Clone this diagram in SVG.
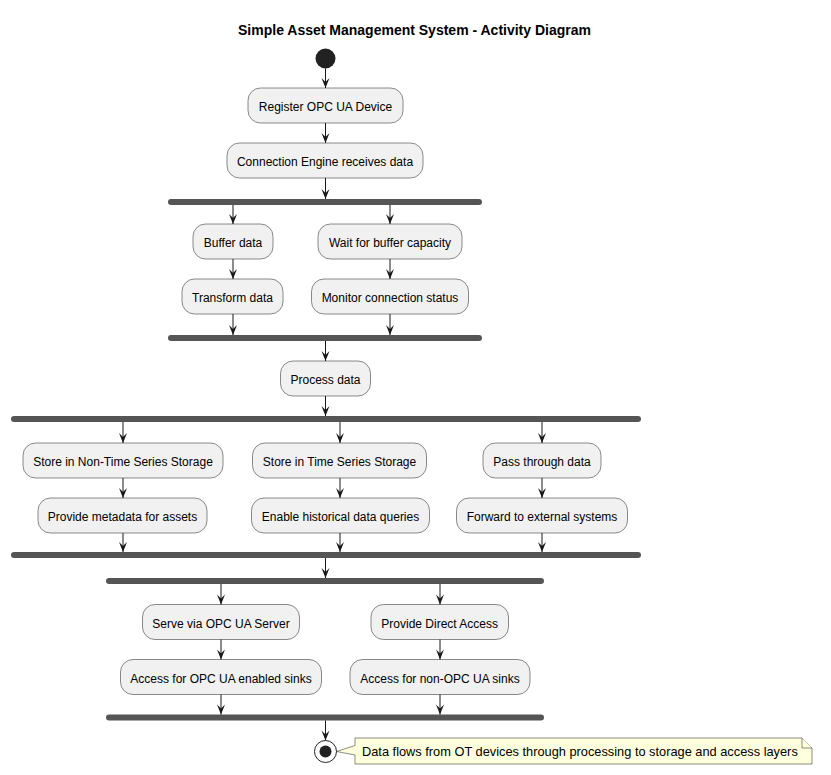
<svg xmlns="http://www.w3.org/2000/svg" width="831" height="775" viewBox="0 0 831 775">
<style>
text{font-family:"Liberation Sans",Arial,sans-serif;fill:#000}
.t{font-size:14px;font-weight:bold}
.a rect{fill:#F1F1F1;stroke:#181818;stroke-width:0.5}
.a text{font-size:12px;text-anchor:middle}
.bar{fill:#555555;stroke:#555555;stroke-width:0}
.c line{stroke:#181818;stroke-width:1;marker-end:url(#ah)}
.note path{fill:#FEFFDD;stroke:#181818;stroke-width:0.5}
.note text{font-size:12.8px}
</style>
<defs>
<marker id="ah" markerUnits="userSpaceOnUse" viewBox="-11 -5 12 10" refX="0" refY="0" markerWidth="12" markerHeight="10" orient="auto">
<path d="M0,0 L-10,-4 L-6,0 L-10,4 Z" fill="#181818"/>
</marker>
</defs>
<rect width="831" height="775" fill="#FFFFFF"/>
<text class="t" x="414.5" y="35" text-anchor="middle">Simple Asset Management System - Activity Diagram</text>

<g id="start"><circle cx="325.5" cy="58.5" r="10" fill="#222222"/></g>

<g id="n1" class="a"><rect x="248" y="88" width="155" height="35" rx="12.5"/><text x="325.5" y="111">Register OPC UA Device</text></g>
<g id="n2" class="a"><rect x="227" y="143" width="196" height="35" rx="12.5"/><text x="325" y="166">Connection Engine receives data</text></g>

<g id="fork1"><rect class="bar" x="168" y="199" width="314" height="6" rx="3"/></g>
<g id="n3" class="a"><rect x="193" y="224" width="80" height="35" rx="12.5"/><text x="233" y="247">Buffer data</text></g>
<g id="n4" class="a"><rect x="318" y="224" width="144" height="35" rx="12.5"/><text x="390" y="247">Wait for buffer capacity</text></g>
<g id="n5" class="a"><rect x="182" y="279" width="101" height="35" rx="12.5"/><text x="232.5" y="302">Transform data</text></g>
<g id="n6" class="a"><rect x="311.5" y="279" width="157" height="35" rx="12.5"/><text x="390" y="302">Monitor connection status</text></g>
<g id="join1"><rect class="bar" x="168" y="335" width="314" height="6" rx="3"/></g>

<g id="n7" class="a"><rect x="280.5" y="361" width="90" height="35" rx="12.5"/><text x="325.5" y="384">Process data</text></g>

<g id="fork2"><rect class="bar" x="11" y="416" width="630" height="6" rx="3"/></g>
<g id="n8" class="a"><rect x="23" y="443" width="200" height="35" rx="12.5"/><text x="123" y="466">Store in Non-Time Series Storage</text></g>
<g id="n9" class="a"><rect x="252.5" y="443" width="174" height="35" rx="12.5"/><text x="339.5" y="466">Store in Time Series Storage</text></g>
<g id="n10" class="a"><rect x="483" y="443" width="118" height="35" rx="12.5"/><text x="542" y="466">Pass through data</text></g>
<g id="n11" class="a"><rect x="38" y="498" width="169" height="35" rx="12.5"/><text x="122.5" y="521">Provide metadata for assets</text></g>
<g id="n12" class="a"><rect x="251.5" y="498" width="178" height="35" rx="12.5"/><text x="340.5" y="521">Enable historical data queries</text></g>
<g id="n13" class="a"><rect x="456.5" y="498" width="171" height="35" rx="12.5"/><text x="542" y="521">Forward to external systems</text></g>
<g id="join2"><rect class="bar" x="11" y="552" width="630" height="6" rx="3"/></g>

<g id="fork3"><rect class="bar" x="106" y="578" width="438" height="6" rx="3"/></g>
<g id="n14" class="a"><rect x="142.5" y="604.5" width="157" height="35" rx="12.5"/><text x="221" y="627.5">Serve via OPC UA Server</text></g>
<g id="n15" class="a"><rect x="371" y="604.5" width="137.5" height="35" rx="12.5"/><text x="439.7" y="627.5">Provide Direct Access</text></g>
<g id="n16" class="a"><rect x="120.5" y="659.5" width="201" height="35" rx="12.5"/><text x="221" y="682.5">Access for OPC UA enabled sinks</text></g>
<g id="n17" class="a"><rect x="350" y="659.5" width="180" height="35" rx="12.5"/><text x="440" y="682.5">Access for non-OPC UA sinks</text></g>
<g id="join3"><rect class="bar" x="106" y="714.5" width="438" height="6" rx="3"/></g>

<g id="end"><circle cx="325.5" cy="751.5" r="11" fill="none" stroke="#222222" stroke-width="1"/><circle cx="325.5" cy="751.5" r="6" fill="#222222"/></g>

<g id="note" class="note">
<path d="M355,738 L355,745.5 L336.5,751.5 L355,755 L355,764 L812,764 L812,748 L802,738 Z"/>
<path d="M802,738 L802,748 L812,748" fill="none"/>
<text x="362" y="756">Data flows from OT devices through processing to storage and access layers</text>
</g>

<g id="connectors" class="c">
<line x1="325.5" y1="68.5" x2="325.5" y2="88"/>
<line x1="325.5" y1="123" x2="325.5" y2="143"/>
<line x1="325.5" y1="178" x2="325.5" y2="199"/>
<line x1="233" y1="205" x2="233" y2="224"/>
<line x1="390" y1="205" x2="390" y2="224"/>
<line x1="233" y1="259" x2="233" y2="279"/>
<line x1="390" y1="259" x2="390" y2="279"/>
<line x1="233" y1="314" x2="233" y2="335"/>
<line x1="390" y1="314" x2="390" y2="335"/>
<line x1="325.5" y1="341" x2="325.5" y2="361"/>
<line x1="325.5" y1="396" x2="325.5" y2="416"/>
<line x1="123" y1="422" x2="123" y2="443"/>
<line x1="340" y1="422" x2="340" y2="443"/>
<line x1="542" y1="422" x2="542" y2="443"/>
<line x1="123" y1="478" x2="123" y2="498"/>
<line x1="340" y1="478" x2="340" y2="498"/>
<line x1="542" y1="478" x2="542" y2="498"/>
<line x1="123" y1="533" x2="123" y2="552"/>
<line x1="340" y1="533" x2="340" y2="552"/>
<line x1="542" y1="533" x2="542" y2="552"/>
<line x1="325.5" y1="558" x2="325.5" y2="578"/>
<line x1="221" y1="584" x2="221" y2="604.5"/>
<line x1="440" y1="584" x2="440" y2="604.5"/>
<line x1="221" y1="639.5" x2="221" y2="659.5"/>
<line x1="440" y1="639.5" x2="440" y2="659.5"/>
<line x1="221" y1="694.5" x2="221" y2="714.5"/>
<line x1="440" y1="694.5" x2="440" y2="714.5"/>
<line x1="325.5" y1="720.5" x2="325.5" y2="740.5"/>
</g>
</svg>
